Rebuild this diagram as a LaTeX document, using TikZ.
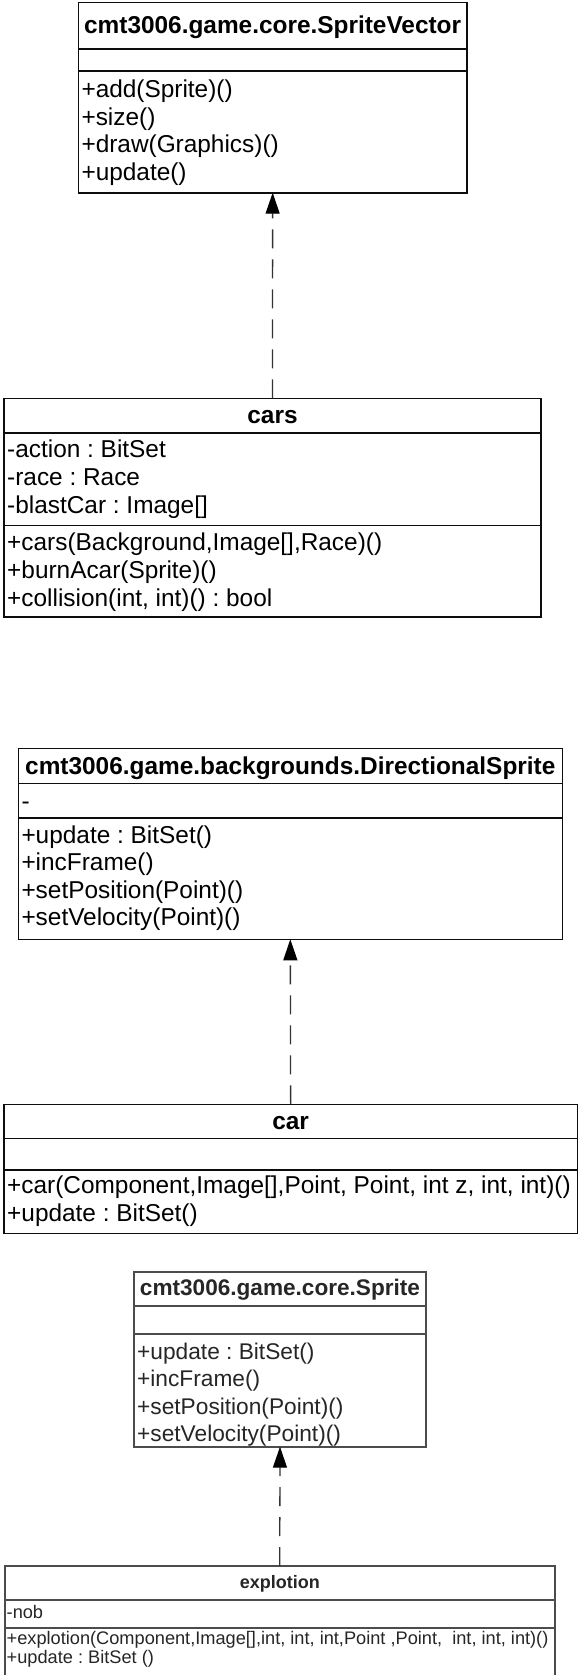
\documentclass[tikz,border=0pt]{standalone}
\usepackage{fontspec}
\setmainfont{Liberation Sans}
\usetikzlibrary{arrows.meta}
\frenchspacing

\begin{document}
\begin{tikzpicture}[x=1pt, y=-1pt,
  classbox/.style={rectangle, draw=black!95, line width=1.6pt, fill=white,
    inner sep=0pt, outer sep=0pt, anchor=north west},
  sepline/.style={draw=black!95, line width=1.6pt},
  title/.style={anchor=base, inner sep=0pt, text=black,
    font=\bfseries\fontsize{24.4pt}{28pt}\selectfont},
  member/.style={anchor=base west, inner sep=0pt, xshift=3pt, text=black,
    font=\fontsize{24.4pt}{28pt}\selectfont},
  softbox/.style={classbox, draw=black!70, line width=2pt},
  softsep/.style={draw=black!70, line width=2pt},
  softtitle/.style={title, text=black!85},
  softmember/.style={member, text=black!85},
  sprmember/.style={softmember, font=\fontsize{22.7pt}{27pt}\selectfont},
  explmember/.style={softmember, xshift=-1pt, font=\fontsize{18.2pt}{21pt}\selectfont},
  realize/.style={draw=black!80, line width=1.3pt, dash pattern=on 19pt off 11pt,
    -{Triangle[length=21pt, width=14pt, black]}}
]
\useasboundingbox (0,0) rectangle (579,1675);
\fill[white] (0,0) rectangle (579,1675);
\clip (0,0) rectangle (579,1675);

% --- cmt3006.game.core.SpriteVector ---
\node[classbox, minimum width=388.7pt, minimum height=190.2pt] (sv) at (78.3,2.5) {};
\draw[sepline] (sv.west |- 0,49.3) -- (sv.east |- 0,49.3);
\draw[sepline] (sv.west |- 0,71) -- (sv.east |- 0,71);
\node[title] (svT) at (sv.north |- 0,33.8) {cmt3006.game.core.SpriteVector};
\node[member] (svM1) at (sv.west |- 0,98) {+add(Sprite)()};
\node[member] (svM2) at (sv.west |- 0,125.5) {+size()};
\node[member] (svM3) at (sv.west |- 0,153) {+draw(Graphics)()};
\node[member] (svM4) at (sv.west |- 0,180.5) {+update()};

% --- cars ---
\node[classbox, minimum width=537pt, minimum height=218.7pt] (cars) at (4,398.3) {};
\draw[sepline] (cars.west |- 0,432.7) -- (cars.east |- 0,432.7);
\draw[sepline] (cars.west |- 0,525.5) -- (cars.east |- 0,525.5);
\node[title] (carsT) at (cars.north |- 0,423.5) {cars};
\node[member] (carsA1) at (cars.west |- 0,457.5) {-action : BitSet};
\node[member] (carsA2) at (cars.west |- 0,485.5) {-race : Race};
\node[member] (carsA3) at (cars.west |- 0,513.5) {-blastCar : Image[]};
\node[member] (carsM1) at (cars.west |- 0,550.5) {+cars(Background,Image[],Race)()};
\node[member] (carsM2) at (cars.west |- 0,578.5) {+burnAcar(Sprite)()};
\node[member] (carsM3) at (cars.west |- 0,606.5) {+collision(int, int)() : bool};

% --- cmt3006.game.backgrounds.DirectionalSprite ---
\node[classbox, minimum width=544pt, minimum height=191pt] (dsp) at (18.3,748.3) {};
\draw[sepline] (dsp.west |- 0,783.3) -- (dsp.east |- 0,783.3);
\draw[sepline] (dsp.west |- 0,817.7) -- (dsp.east |- 0,817.7);
\node[title] (dspT) at (dsp.north |- 0,774.5) {cmt3006.game.backgrounds.DirectionalSprite};
\node[member] (dspA1) at (dsp.west |- 0,809.5) {-};
\node[member] (dspM1) at (dsp.west |- 0,843) {+update : BitSet()};
\node[member] (dspM2) at (dsp.west |- 0,870.5) {+incFrame()};
\node[member] (dspM3) at (dsp.west |- 0,898) {+setPosition(Point)()};
\node[member] (dspM4) at (dsp.west |- 0,925.5) {+setVelocity(Point)()};

% --- car ---
\node[classbox, minimum width=573.3pt, minimum height=129pt] (carbox) at (4,1104.3) {};
\draw[sepline] (carbox.west |- 0,1138.3) -- (carbox.east |- 0,1138.3);
\draw[sepline] (carbox.west |- 0,1170) -- (carbox.east |- 0,1170);
\node[title] (carT) at (carbox.north |- 0,1129) {car};
\node[member] (carM1) at (carbox.west |- 0,1193.5) {+car(Component,Image[],Point, Point, int z, int, int)()};
\node[member] (carM2) at (carbox.west |- 0,1221) {+update : BitSet()};

% --- cmt3006.game.core.Sprite ---
\node[softbox, minimum width=292pt, minimum height=175pt] (spr) at (134,1271.7) {};
\draw[softsep] (spr.west |- 0,1305.7) -- (spr.east |- 0,1305.7);
\draw[softsep] (spr.west |- 0,1334) -- (spr.east |- 0,1334);
\node[softtitle, font=\bfseries\fontsize{22.6pt}{27pt}\selectfont] (sprT) at (spr.north |- 0,1295) {cmt3006.game.core.Sprite};
\node[sprmember] (sprM1) at (spr.west |- 0,1359) {+update : BitSet()};
\node[sprmember] (sprM2) at (spr.west |- 0,1386.5) {+incFrame()};
\node[sprmember] (sprM3) at (spr.west |- 0,1414) {+setPosition(Point)()};
\node[sprmember] (sprM4) at (spr.west |- 0,1441) {+setVelocity(Point)()};

% --- explotion ---
\node[softbox, minimum width=550.5pt, minimum height=111pt] (expl) at (4.5,1566) {};
\draw[softsep] (expl.west |- 0,1600) -- (expl.east |- 0,1600);
\draw[softsep] (expl.west |- 0,1628) -- (expl.east |- 0,1628);
\node[softtitle, font=\bfseries\fontsize{18pt}{22pt}\selectfont] (explT) at (expl.north |- 0,1588) {explotion};
\node[explmember] (explA1) at (expl.west |- 0,1618.5) {-nob};
\node[explmember] (explM1) at (expl.west |- 0,1644) {+explotion(Component,Image[],int, int, int,Point ,Point,\ \ int, int, int)()};
\node[explmember] (explM2) at (expl.west |- 0,1663.5) {+update : BitSet ()};

% --- realization arrows (child to parent) ---
\draw[realize] (cars.north) -- (sv.south);
\draw[realize] (carbox.north) -- (dsp.south);
\draw[realize] (expl.north) -- (spr.south);
\end{tikzpicture}
\end{document}
